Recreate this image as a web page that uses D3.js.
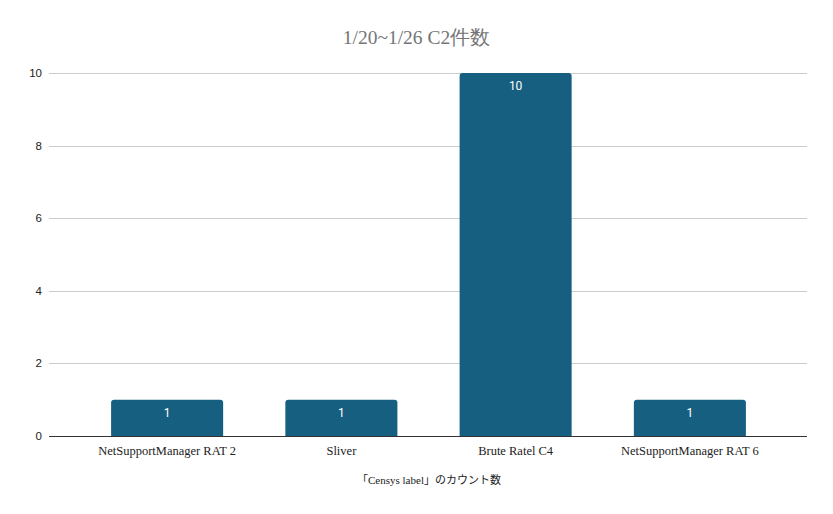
<!DOCTYPE html>
<html><head><meta charset="utf-8">
<script src="https://cdn.jsdelivr.net/npm/d3@7"></script>
<style>body{margin:0;background:#fff}</style>
</head><body>
<svg id="c" width="833" height="514"></svg>
<script>
const categories = ["NetSupportManager RAT 2", "Sliver", "Brute Ratel C4", "NetSupportManager RAT 6"];
const values = [1, 1, 10, 1];
const yTicks = [0, 2, 4, 6, 8, 10];
const title = "1/20~1/26 C2件数";
const xTitle = "「Censys label」のカウント数";

(function () {
const svg = d3.select("#c");
const pLeft = 49, pRight = 807, pTop = 73, pBottom = 436;
const x = d3.scaleBand().domain(categories).range([80, 777]).paddingInner(0.357).paddingOuter(0.1785);
const y = d3.scaleLinear().domain([0, 10]).range([pBottom, pTop]);

svg.append("text").attr("x", 416.5).attr("y", 44).attr("text-anchor", "middle")
  .attr("font-family", "Liberation Serif, serif").attr("font-size", 19.5).attr("fill", "#757575").text(title);

svg.append("g").selectAll("line").data(yTicks.filter(d => d !== 0)).join("line")
  .attr("x1", pLeft).attr("x2", pRight).attr("y1", d => Math.round(y(d)) + 0.5).attr("y2", d => Math.round(y(d)) + 0.5)
  .attr("stroke", "#cccccc").attr("stroke-width", 1);

svg.append("g").selectAll("text").data(yTicks).join("text")
  .attr("x", 42).attr("y", d => y(d) + 4).attr("text-anchor", "end")
  .attr("font-family", "Liberation Sans, Arial, sans-serif").attr("font-size", 11.5).attr("fill", "#222").text(d => d);

const r = 3;
svg.append("g").selectAll("path").data(values).join("path")
  .attr("fill", "#175f80")
  .attr("d", (d, i) => {
    const x0 = x(categories[i]), w = x.bandwidth(), y0 = y(d), y1 = y(0);
    return `M${x0},${y1}V${y0 + r}Q${x0},${y0} ${x0 + r},${y0}H${x0 + w - r}Q${x0 + w},${y0} ${x0 + w},${y0 + r}V${y1}Z`;
  });

svg.append("g").selectAll("text").data(values).join("text")
  .attr("x", (d, i) => x(categories[i]) + x.bandwidth() / 2).attr("y", d => y(d) + 17)
  .attr("text-anchor", "middle").attr("font-family", "Roboto, sans-serif").attr("font-size", 12)
  .attr("fill", "#ffffff").text(d => d);

svg.append("line").attr("x1", pLeft).attr("x2", pRight).attr("y1", pBottom + 0.5).attr("y2", pBottom + 0.5)
  .attr("stroke", "#333").attr("stroke-width", 1);

svg.append("g").selectAll("text").data(categories).join("text")
  .attr("x", d => x(d) + x.bandwidth() / 2).attr("y", 455).attr("text-anchor", "middle")
  .attr("font-family", "Liberation Serif, serif").attr("font-size", 12.5).attr("fill", "#222").text(d => d);

svg.append("text").attr("x", 429).attr("y", 484).attr("text-anchor", "middle")
  .attr("font-family", "Liberation Serif, 'Noto Sans CJK JP', serif").attr("font-size", 11).attr("fill", "#222").text(xTitle);
})();
</script>
</body></html>
